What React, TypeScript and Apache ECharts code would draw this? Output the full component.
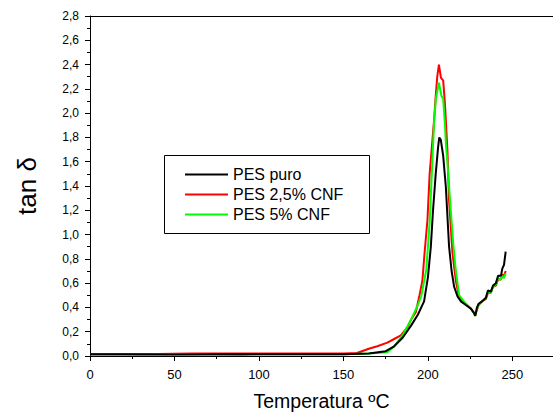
import React, { useEffect, useRef } from "react";
import * as echarts from "echarts";

const seriesNames = ["PES puro", "PES 2,5% CNF", "PES 5% CNF"];
const seriesColors = ["#000000", "#ff0000", "#00ff00"];

const tempPuro = [0, 20, 50, 80, 100, 130, 150, 165, 175, 180, 185, 190, 194, 197.7, 200, 201.7, 203, 204.6, 206, 206.7, 207.6, 209, 210.6, 212.5, 214, 215.5, 217.5, 219.5, 222.4, 225.4, 227, 228, 229, 230, 232, 234.3, 235.5, 237.2, 238.5, 240.2, 241.5, 243.2, 244, 245, 246];
const tanPuro = [0.015, 0.015, 0.012, 0.015, 0.015, 0.015, 0.015, 0.02, 0.04, 0.08, 0.15, 0.25, 0.34, 0.45, 0.65, 0.9, 1.2, 1.5, 1.72, 1.8, 1.78, 1.65, 1.39, 0.9, 0.7, 0.57, 0.49, 0.45, 0.42, 0.39, 0.36, 0.33, 0.4, 0.43, 0.45, 0.48, 0.54, 0.53, 0.58, 0.6, 0.66, 0.66, 0.72, 0.75, 0.86];

const temp25 = [0, 30, 60, 100, 130, 150, 158, 165, 170, 176, 180, 184, 188, 190, 192.8, 195, 196.7, 198, 199.7, 201, 202.6, 203.5, 204.6, 205.5, 206.5, 207.7, 209, 210, 211.5, 212.5, 214.5, 216.5, 218.5, 222.4, 225.4, 227, 228, 229, 230, 232, 234.3, 235.5, 237.2, 238.5, 240.2, 241.5, 243.2, 244, 245, 246];
const tan25 = [0.015, 0.015, 0.02, 0.02, 0.02, 0.02, 0.025, 0.06, 0.08, 0.11, 0.14, 0.17, 0.24, 0.3, 0.36, 0.5, 0.62, 0.85, 1.12, 1.5, 1.77, 1.92, 2.14, 2.3, 2.4, 2.29, 2.27, 2.09, 1.7, 1.28, 0.85, 0.62, 0.48, 0.43, 0.39, 0.36, 0.34, 0.38, 0.42, 0.45, 0.47, 0.52, 0.52, 0.57, 0.58, 0.63, 0.63, 0.67, 0.66, 0.7];

const temp5 = [0, 30, 60, 90, 100, 130, 150, 165, 176, 180, 185, 190, 194, 196, 199, 201, 203.6, 204.7, 206.5, 208, 209, 210, 210.7, 211.5, 213.5, 215, 216.5, 218.5, 222.4, 225.4, 227, 228, 229, 230, 232, 234.3, 235.5, 237.2, 238.5, 240.2, 241.5, 243.2, 244, 245, 246];
const tan5 = [0.015, 0.012, 0.015, 0.008, 0.015, 0.015, 0.015, 0.02, 0.03, 0.08, 0.17, 0.3, 0.42, 0.49, 0.71, 1.1, 1.92, 2.12, 2.25, 2.14, 2.12, 1.92, 1.73, 1.6, 1.2, 0.92, 0.7, 0.5, 0.43, 0.39, 0.36, 0.33, 0.39, 0.42, 0.45, 0.48, 0.53, 0.52, 0.57, 0.59, 0.64, 0.63, 0.66, 0.64, 0.68];

const xTicks = [0, 50, 100, 150, 200, 250];

const pair = (xs: number[], ys: number[]) => xs.map((x, i) => [x, ys[i]]);

export default function App() {
  const ref = useRef<HTMLDivElement>(null);
  useEffect(() => {
    if (!ref.current) return;
    const chart = echarts.init(ref.current, undefined, { renderer: "svg" });
    const font = "Liberation Sans, Arial, sans-serif";
    const datasets = [pair(tempPuro, tanPuro), pair(temp25, tan25), pair(temp5, tan5)];
    const order = [1, 2, 0];
    const legendRowsY = [174.5, 194.5, 214.5];
    const legendGraphics: any[] = [
      {
        type: "rect",
        shape: { x: 164.5, y: 155.5, width: 205, height: 78 },
        style: { fill: "#fff", stroke: "#000", lineWidth: 1 },
        z: 10,
      },
    ];
    seriesNames.forEach((name, i) => {
      legendGraphics.push({
        type: "line",
        shape: { x1: 185, y1: legendRowsY[i], x2: 228, y2: legendRowsY[i] },
        style: { stroke: seriesColors[i], lineWidth: 2 },
        z: 11,
      });
      legendGraphics.push({
        type: "text",
        x: 233,
        y: legendRowsY[i],
        style: {
          text: name,
          fontFamily: font,
          fontSize: 16,
          fill: "#000",
          textVerticalAlign: "middle",
          verticalAlign: "middle",
        },
        z: 11,
      });
    });
    legendGraphics.push({
      type: "line",
      shape: { x1: 85, y1: 16.5, x2: 553, y2: 16.5 },
      style: { stroke: "#000", lineWidth: 1 },
      z: 10,
    });
    chart.setOption({
      animation: false,
      backgroundColor: "#ffffff",
      grid: { left: 90, right: 0, top: 16, bottom: 61, show: false },
      xAxis: {
        type: "value",
        min: 0,
        max: 274,
        interval: 50,
        name: "Temperatura ºC",
        nameLocation: "middle",
        nameGap: 35,
        nameTextStyle: { fontFamily: font, fontSize: 19.5, color: "#000" },
        axisLine: { lineStyle: { color: "#000", width: 1 } },
        axisTick: { show: true, inside: false, length: 5, lineStyle: { color: "#000" } },
        minorTick: { show: true, splitNumber: 2, length: 3, lineStyle: { color: "#000" } },
        splitLine: { show: false },
        axisLabel: {
          fontFamily: font,
          fontSize: 13,
          color: "#000",
          margin: 12,
          showMaxLabel: false,
          formatter: (v: number) => (xTicks.includes(v) ? String(v) : ""),
        },
      },
      yAxis: {
        type: "value",
        min: 0,
        max: 2.8,
        interval: 0.2,
        name: "tan δ",
        nameLocation: "middle",
        nameGap: 50,
        nameTextStyle: { fontFamily: font, fontSize: 26, color: "#000" },
        axisLine: { show: true, lineStyle: { color: "#000", width: 1 } },
        axisTick: { show: true, inside: false, length: 5, lineStyle: { color: "#000" } },
        minorTick: { show: true, splitNumber: 2, length: 3, lineStyle: { color: "#000" } },
        splitLine: { show: false },
        axisLabel: {
          fontFamily: font,
          fontSize: 12,
          color: "#000",
          margin: 11,
          formatter: (v: number) => v.toFixed(1).replace(".", ","),
        },
      },
      graphic: legendGraphics,
      series: order.map((i) => ({
        name: seriesNames[i],
        type: "line",
        data: datasets[i],
        showSymbol: false,
        symbol: "none",
        z: 3,
        lineStyle: { color: seriesColors[i], width: 2 },
        itemStyle: { color: seriesColors[i] },
      })),
    });
    return () => chart.dispose();
  }, []);
  return <div ref={ref} style={{ position: "fixed", left: 0, top: 0, width: 553, height: 417 }} />;
}
